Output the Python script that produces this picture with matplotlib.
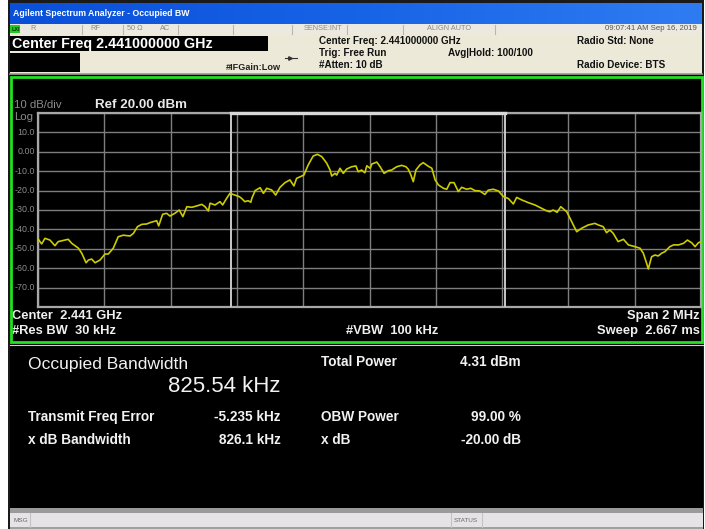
import numpy as np
import matplotlib
matplotlib.use('Agg')
from matplotlib import pyplot as plt
from matplotlib.patches import Rectangle

plt.rcParams['font.family'] = ['Liberation Sans', 'DejaVu Sans']

# trace: offset from centre (kHz) and level (dBm)
freq_khz = [-999, -989, -979, -964, -949, -939, -919, -909, -898, -878,
            -868, -855, -848, -838, -828, -813, -798, -788, -773, -758,
            -743, -722, -712, -700, -687, -672, -662, -652, -642, -636,
            -624, -612, -602, -587, -574, -563, -551, -536, -521, -506,
            -496, -486, -481, -466, -451, -443, -431, -421, -406, -393,
            -386, -376, -366, -358, -355, -345, -330, -320, -310, -295,
            -283, -270, -255, -240, -228, -220, -205, -198, -185, -170,
            -157, -144, -129, -119, -114, -104, -99, -89, -79, -69,
            -54, -41, -34, -24, -14, -8, 2, 7, 22, 32,
            44, 57, 67, 82, 97, 110, 117, 125, 132, 140,
            152, 162, 176, 188, 198, 208, 223, 233, 243, 255,
            268, 278, 293, 305, 318, 333, 348, 358, 373, 389,
            404, 419,
            434, 444, 459, 479, 499, 519, 534, 544, 554, 566,
            577, 595, 610, 625, 640, 660, 680, 690, 705, 715,
            725, 735, 750, 766, 781, 801, 816, 826, 836, 841,
            851, 861, 871, 881, 891, 906, 917, 932, 947, 959,
            972, 982, 992, 1000]
level_dbm = [-45.1, -47.5, -44.6, -45.5, -48.4, -46.3, -45.5, -45.1, -47.2, -49.7,
             -52.3, -57.2, -55.8, -55.3, -57.2, -55.8, -52.7, -52.7, -49.7, -43.8,
             -43.0, -43.4, -42.0, -38.6, -37.4, -37.2, -36.5, -36.0, -35.5, -38.2,
             -32.2, -31.7, -33.1, -31.7, -30.0, -33.4, -28.3, -28.6, -27.9, -27.1,
             -28.3, -30.5, -26.5, -27.4, -25.7, -27.4, -24.0, -21.4, -22.3, -23.1,
             -24.0, -25.7, -25.2, -26.0, -24.0, -20.0, -18.5, -21.4, -18.8, -19.7,
             -22.3, -18.3, -15.9, -14.5, -17.6, -13.7, -12.5, -12.0, -6.8, -2.2,
             -1.3, -2.5, -5.9, -9.4, -12.5, -11.1, -12.0, -8.5, -11.1, -8.9,
             -7.7, -7.3, -10.3, -9.4, -10.8, -7.2, -8.5, -6.3, -5.3, -7.7,
             -11.1, -9.7, -9.4, -7.7, -7.0, -7.7, -9.0, -12.0, -15.4, -9.4,
             -6.8, -5.6, -7.3, -8.5, -14.5, -17.1, -18.8, -19.3, -15.9, -15.9,
             -20.5, -18.3, -19.3, -18.8, -20.0, -20.2, -22.0, -19.8, -19.3, -20.2,
             -23.1, -24.1,
             -26.9, -23.5, -24.8, -26.2, -27.4, -29.1, -30.4, -30.9, -30.0, -31.2,
             -28.3, -30.9, -36.0, -41.2, -39.4, -37.7, -36.9, -37.7, -38.6, -41.7,
             -40.3, -42.0, -46.3, -45.1, -48.0, -48.9, -49.7, -52.3, -57.5, -60.4,
             -54.1, -53.2, -53.7, -52.3, -51.5, -48.9, -48.0, -48.0, -47.2, -45.5,
             -46.9, -48.9, -46.9, -46.3]

ref_level = 20.0
db_per_div = 10
span_khz = 2000
obw_khz = 825.54
freq_error_khz = -5.235
ytick_vals = [10, 0, -10, -20, -30, -40, -50, -60, -70]
ytick_text = ['10.0', '0.00', '-10.0', '-20.0', '-30.0', '-40.0', '-50.0', '-60.0', '-70.0']

W, H = 705, 529
fig = plt.figure(figsize=(W / 100, H / 100), dpi=100)
fig.patch.set_facecolor('white')

# screen canvas in pixel coords
bg = fig.add_axes([0, 0, 1, 1])
bg.set_xlim(0, W)
bg.set_ylim(H, 0)
bg.axis('off')


def box(x, y, w, h, fc, ec='none', lw=0, z=1):
    bg.add_patch(Rectangle((x, y), w, h, facecolor=fc, edgecolor=ec, linewidth=lw, zorder=z))


def txt(x, y, s, size=7, color='black', weight='normal', ha='left', **kw):
    bg.text(x, y, s, fontsize=size, color=color, fontweight=weight, ha=ha, va='center', **kw)


# window frame
box(8, 0, 696, 529, '#1a1a1a')
# title bar gradient
grad = np.linspace(0, 1, 256).reshape(1, -1)
bg.imshow(grad, extent=(10, 702, 24, 3), cmap=matplotlib.colors.LinearSegmentedColormap.from_list(
    'xp', ['#0a4fd8', '#1763e6', '#2f7cf2']), aspect='auto', zorder=2)
txt(13, 14, 'Agilent Spectrum Analyzer - Occupied BW', size=6.3, color='white', weight='bold')

# status row
box(10, 24, 692, 10, '#ebe9e0', z=2)
box(10, 25, 10, 8, '#22cc22', z=3)
txt(11.5, 29.5, 'LXI', size=4, color='#003300', weight='bold', zorder=4)
for sx in [82, 123, 178, 233, 292, 347, 403, 495]:
    bg.plot([sx, sx], [24.5, 33.5], color='#b8b6ae', lw=0.8, zorder=3)
for sx, s in [(30, 'R'), (90, 'RF'), (127, '50 Ω'), (160, 'AC'), (304, 'SENSE:INT'), (427, 'ALIGN AUTO')]:
    txt(sx, 29, s, size=5.3, color='#8a8a8a', zorder=4)
txt(697, 29, '09:07:41 AM Sep 16, 2019', size=5.6, color='#555555', ha='right', zorder=4)

# info area
box(10, 34, 692, 40, '#ece9d8', z=2)
box(10, 36, 258, 15, 'black', z=3)
txt(12, 44, 'Center Freq 2.441000000 GHz', size=10.3, color='white', weight='bold', zorder=4)
box(10, 53, 70, 19, 'black', z=3)
bg.plot([10, 702], [73.5, 73.5], color='#9a9890', lw=1.2, zorder=3)
txt(226, 67, '#IFGain:Low', size=6.6, color='#222222', weight='bold', zorder=4)
bg.plot([285, 297], [58, 58], color='#333333', lw=0.8, zorder=4)
bg.plot([290], [58], marker='>', ms=2.5, color='#333333', zorder=4)
txt(319, 41, 'Center Freq: 2.441000000 GHz', size=7.1, weight='bold', color='#111111', zorder=4)
txt(319, 53, 'Trig: Free Run', size=7.1, weight='bold', color='#111111', zorder=4)
txt(319, 65, '#Atten: 10 dB', size=7.1, weight='bold', color='#111111', zorder=4)
txt(448, 53, 'Avg|Hold: 100/100', size=7.1, weight='bold', color='#111111', zorder=4)
txt(577, 41, 'Radio Std: None', size=7.1, weight='bold', color='#111111', zorder=4)
txt(577, 65, 'Radio Device: BTS', size=7.1, weight='bold', color='#111111', zorder=4)

# graph panel with green border
box(10, 75, 693, 268, 'black', z=2)
bg.add_patch(Rectangle((11, 77), 691, 265, facecolor='none', edgecolor='#22e022', linewidth=2, zorder=5))
txt(14, 105, '10 dB/div', size=8.2, color='#8c8c8c', zorder=4)
txt(95, 105, 'Ref 20.00 dBm', size=9.6, color='#e8e8e8', weight='bold', zorder=4)
txt(14, 117, 'Log', size=8.2, color='#8c8c8c', zorder=4)
txt(12, 316, 'Center  2.441 GHz', size=9.3, color='#f0f0f0', weight='bold', zorder=4)
txt(12, 331, '#Res BW  30 kHz', size=9.3, color='#f0f0f0', weight='bold', zorder=4)
txt(346, 331, '#VBW  100 kHz', size=9.3, color='#f0f0f0', weight='bold', zorder=4)
txt(700, 316, 'Span 2 MHz', size=9.3, color='#f0f0f0', weight='bold', ha='right', zorder=4)
txt(700, 331, 'Sweep  2.667 ms', size=9.3, color='#f0f0f0', weight='bold', ha='right', zorder=4)

# results panel
box(10, 344, 693, 165, 'black', z=2)
bg.plot([10, 703], [344.5, 344.5], color='#cfcfcf', lw=0.8, zorder=3)
txt(28, 364, 'Occupied Bandwidth', size=12.6, color='#f2f2f2', zorder=4)
txt(281, 387, '%.2f kHz' % obw_khz, size=16, color='#f2f2f2', ha='right', zorder=4)
lab = 9.8
txt(28, 417, 'Transmit Freq Error', size=lab, color='#f2f2f2', weight='bold', zorder=4)
txt(281, 417, '%.3f kHz' % freq_error_khz, size=lab, color='#f2f2f2', weight='bold', ha='right', zorder=4)
txt(28, 440, 'x dB Bandwidth', size=lab, color='#f2f2f2', weight='bold', zorder=4)
txt(281, 440, '826.1 kHz', size=lab, color='#f2f2f2', weight='bold', ha='right', zorder=4)
txt(321, 362, 'Total Power', size=lab, color='#f2f2f2', weight='bold', zorder=4)
txt(521, 362, '4.31 dBm', size=lab, color='#f2f2f2', weight='bold', ha='right', zorder=4)
txt(321, 417, 'OBW Power', size=lab, color='#f2f2f2', weight='bold', zorder=4)
txt(521, 417, '99.00 %', size=lab, color='#f2f2f2', weight='bold', ha='right', zorder=4)
txt(321, 440, 'x dB', size=lab, color='#f2f2f2', weight='bold', zorder=4)
txt(521, 440, '-20.00 dB', size=lab, color='#f2f2f2', weight='bold', ha='right', zorder=4)

# bottom status bar
box(10, 508, 693, 5, '#9a9a9a', z=2)
box(10, 513, 693, 14, '#e6e3e6', z=2)
box(10, 527, 693, 2, '#a0a0a0', z=2)
for sx in [30, 451, 482]:
    bg.plot([sx, sx], [513, 527], color='#c4c2c4', lw=0.8, zorder=3)
txt(13, 520, 'MSG', size=4.6, color='#666666', zorder=4)
txt(454, 520, 'STATUS', size=4.6, color='#666666', zorder=4)

# spectrum trace axes
gx0, gx1, gy0, gy1 = 38, 701, 113, 307
ax = fig.add_axes([gx0 / W, 1 - gy1 / H, (gx1 - gx0) / W, (gy1 - gy0) / H])
ax.set_facecolor('black')
ax.set_xlim(-span_khz / 2, span_khz / 2)
ax.set_ylim(ref_level - 10 * db_per_div, ref_level)
ax.set_xticks(np.linspace(-span_khz / 2, span_khz / 2, 11))
ax.set_yticks(np.arange(ref_level - 10 * db_per_div, ref_level + 1, db_per_div))
ax.grid(True, color='#7e7e7e', lw=1.0)
ax.set_axisbelow(True)
ax.tick_params(length=0, labelbottom=False, labelleft=False)
for sp in ax.spines.values():
    sp.set_color('#a8a8a8')
    sp.set_linewidth(1.6)

# OBW markers
lo = freq_error_khz - obw_khz / 2
hi = freq_error_khz + obw_khz / 2
for m in (lo, hi):
    ax.axvline(m, color='#c8c8c8', lw=1.4, zorder=3)
ax.plot([lo, hi], [ref_level, ref_level], color='#d8d8d8', lw=2.4, zorder=4, clip_on=False)

ax.plot(freq_khz, level_dbm, color='#cccc00', lw=1.2, zorder=5)

for v, s in zip(ytick_vals, ytick_text):
    ax.text(-span_khz / 2 - 9, v, s, fontsize=6.4, color='#8c8c8c', ha='right', va='center', clip_on=False)

fig.savefig('out.png', dpi=100, facecolor=fig.get_facecolor())
